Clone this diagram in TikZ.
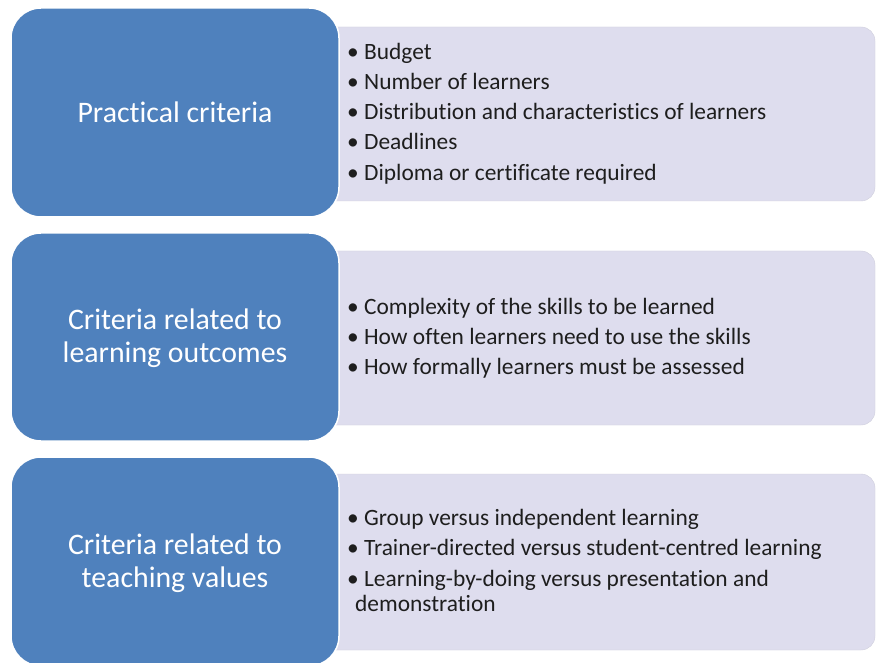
\documentclass[tikz,border=0pt]{standalone}
\usepackage{fontspec}
\setmainfont{Carlito}[Ligatures=NoCommon]
\definecolor{boxblue}{RGB}{79,129,189}
\definecolor{boxlav}{RGB}{222,221,238}
\definecolor{txtdark}{RGB}{30,30,30}
\begin{document}
\begin{tikzpicture}[x=1pt,y=1pt,
  catbox/.style={draw=white,line width=1.5pt,fill=boxblue,rounded corners=30pt},
  listbox/.style={draw=boxlav!85!gray,line width=0.4pt,fill=boxlav,rounded corners=14pt},
  cattext/.style={text=white,align=center,font=\fontsize{29.8}{32.5}\selectfont,inner sep=0pt},
  listtext/.style={text=txtdark,align=left,anchor=west,font=\fontsize{23.4}{30.2}\selectfont,inner sep=0pt}]
\useasboundingbox (0,0) rectangle (877,662);
\clip (0,0) rectangle (877,662);
\fill[white] (0,0) rectangle (877,662);
% list boxes
\draw[listbox] (300,461) rectangle (875,635);
\draw[listbox] (300,237) rectangle (875,411);
\draw[listbox] (300,12) rectangle (875,188);
% category boxes
\draw[catbox] (11,445) rectangle (339,654);
\draw[catbox] (11,221) rectangle (339,429);
\draw[catbox] (11,-4) rectangle (339,205);
% category texts
\node[cattext] (c1) at (175,550) {Practical criteria};
\node[cattext] (c2) at (175,324) {Criteria related to\\learning outcomes};
\node[cattext] (c3) at (175,99) {Criteria related to\\teaching values};
% list texts
\node[listtext] (l1) at (347,548.5) {\textbullet\ Budget\\\textbullet\ Number of learners\\\textbullet\ Distribution and characteristics of learners\\\textbullet\ Deadlines\\\textbullet\ Diploma or certificate required};
\node[listtext] (l2) at (347,324) {\textbullet\ Complexity of the skills to be learned\\\textbullet\ How often learners need to use the skills\\\textbullet\ How formally learners must be assessed};
\node[listtext] (l3) at (347,101.5) {\textbullet\ Group versus independent learning\\\textbullet\ Trainer-directed versus student-centred learning\\\textbullet\ Learning-by-doing versus presentation and\\[-5pt]\hspace*{8pt}demonstration};
\end{tikzpicture}
\end{document}
